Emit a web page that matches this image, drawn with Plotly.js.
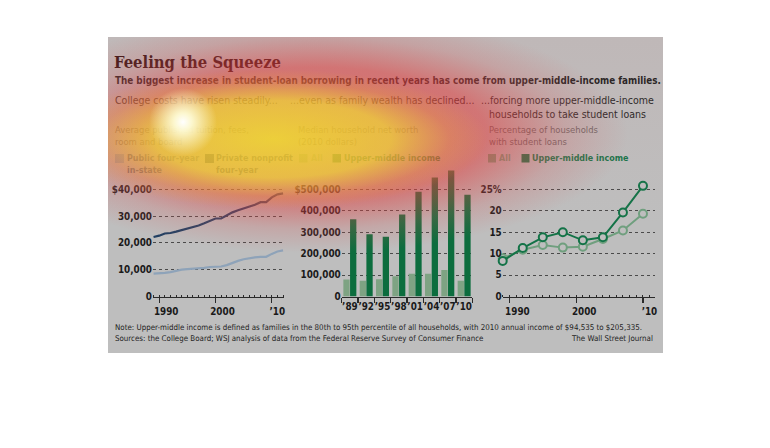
<!DOCTYPE html>
<html><head><meta charset="utf-8">
<script src="https://cdn.plot.ly/plotly-3.0.1.min.js"></script>
<style>
html,body{margin:0;padding:0;background:#fff;}
#wrap{position:relative;width:770px;height:448px;overflow:hidden;}
#chart{width:770px;height:448px;}
#heat{position:absolute;left:108px;top:37px;width:555px;height:316px;pointer-events:none;
background:
 radial-gradient(circle at 75px 85px, rgba(255,255,255,1) 0px, rgba(255,255,225,0.88) 9px, rgba(255,250,150,0) 34px),
 radial-gradient(ellipse 215px 70px at 165px 102px, rgba(245,240,40,0.74) 0%, rgba(245,232,45,0.62) 55%, rgba(240,170,50,0.25) 82%, rgba(240,150,60,0) 100%),
 radial-gradient(ellipse 315px 120px at 205px 96px, rgba(228,55,55,0.6) 0%, rgba(225,60,60,0.55) 55%, rgba(215,85,85,0.22) 80%, rgba(210,110,110,0) 100%),
 linear-gradient(rgba(200,140,140,0.12), rgba(200,140,140,0) 60%);
}
</style></head><body>
<div id="wrap"><div id="chart"></div><div id="heat"></div></div>
<script>
// ---- Data ----
const costYears = [1989,1990,1991,1992,1993,1994,1995,1996,1997,1998,1999,2000,2001,2002,2003,2004,2005,2006,2007,2008,2009,2010,2011,2012];
const privateCost = [22200,22700,23500,23700,24200,24800,25200,25800,26500,27300,28300,29100,29100,30400,31400,32200,32900,33500,34200,35200,35200,37000,38100,38500];
const publicCost  = [8500,8600,8800,9100,9600,10000,10200,10300,10500,10700,11000,11100,11200,11700,12600,13300,13900,14300,14600,14800,14800,15900,16800,17200];
const costTickVals = [0,10000,20000,30000,40000];
const costTickText = ['0','10,000','20,000','30,000','$40,000'];

const worthLabels = ['\u201989','\u201992','\u201995','\u201998','\u201901','\u201904','\u201907','\u201910'];
const worthAll   = [79000,74000,81000,95000,106000,106000,124000,74000];
const worthUpper = [360000,290000,279000,382000,489000,555000,588000,475000];
const worthTickVals = [0,100000,200000,300000,400000,500000];
const worthTickText = ['0','100,000','200,000','300,000','400,000','$500,000'];

const loanYears = [1989,1992,1995,1998,2001,2004,2007,2010];
const loanAll   = [8.9,10.9,12.0,11.4,11.6,13.4,15.4,19.3];
const loanUpper = [8.3,11.3,13.8,15.0,13.1,13.8,19.6,25.8];
const loanTickVals = [0,5,10,15,20,25];
const loanTickText = ['0','5','10','15','20','25%'];

const yearTickVals = [1990,2000,2010];
const yearTickText = ['1990','2000','\u201910\u00a0'];

// ---- Styles ----
const W = 770, H = 448;
const NARROW = "'DejaVu Sans Condensed','Liberation Sans Narrow','Arial Narrow',sans-serif";
const SERIF = "'DejaVu Serif Condensed','DejaVu Serif','Liberation Serif',serif";
const BG = '#bebebe';
const C_PRIV = '#1f3f62', C_PUB = '#8ea3b9';
const C_ALL = '#7ea383', C_UP = '#0c6d3e';
const C_LALL = '#6f9f7e', C_LUP = '#137347';
const px = v => v / W, py = v => 1 - v / H;

const yDom = [py(296.5), py(160)];
const scaleTop = (296.5 - 160) / (296.5 - 189.3);

const yTickFont = {family: NARROW, size: 9.8, color: '#1a1a1a', weight: 'bold'};
const xTickFont = {family: NARROW, size: 9.8, color: '#1a1a1a', weight: 'bold'};

const traces = [
  {x: costYears, y: privateCost, type: 'scatter', mode: 'lines', line: {color: C_PRIV, width: 2.2}, xaxis: 'x', yaxis: 'y', cliponaxis: false},
  {x: costYears, y: publicCost, type: 'scatter', mode: 'lines', line: {color: C_PUB, width: 2.2}, xaxis: 'x', yaxis: 'y', cliponaxis: false},
  {x: worthLabels, y: worthAll, type: 'bar', marker: {color: C_ALL}, xaxis: 'x2', yaxis: 'y2'},
  {x: worthLabels, y: worthUpper, type: 'bar', marker: {color: C_UP}, xaxis: 'x2', yaxis: 'y2'},
  {x: loanYears, y: loanAll, type: 'scatter', mode: 'lines+markers', line: {color: C_LALL, width: 2},
   marker: {symbol: 'circle', size: 8, color: BG, line: {color: C_LALL, width: 2}}, xaxis: 'x3', yaxis: 'y3', cliponaxis: false},
  {x: loanYears, y: loanUpper, type: 'scatter', mode: 'lines+markers', line: {color: C_LUP, width: 2},
   marker: {symbol: 'circle', size: 8, color: BG, line: {color: C_LUP, width: 2}}, xaxis: 'x3', yaxis: 'y3', cliponaxis: false}
];

function yAx(anchor, top, vals, text) {
  return {domain: yDom, anchor: anchor, range: [0, top * scaleTop], tickmode: 'array', tickvals: vals, ticktext: text,
    showgrid: true, gridcolor: '#4a4a4a', griddash: 'dot', gridwidth: 1, zeroline: false, showline: false,
    ticks: '', tickfont: yTickFont, fixedrange: true};
}
function yearAx(dom, range, shift, anchor) {
  return {domain: dom, anchor: anchor, range: range, tickmode: 'array', tickvals: yearTickVals, ticktext: yearTickText,
    showgrid: false, zeroline: false, showline: true, linecolor: '#2a2a2a', linewidth: 1.3, tickangle: 0,
    ticks: 'outside', ticklen: 5, tickwidth: 1.3, tickcolor: '#2a2a2a', tickfont: xTickFont, ticklabelshift: shift,
    minor: {tickmode: 'linear', tick0: 1989, dtick: 1, ticks: 'inside', ticklen: 2, tickwidth: 1, tickcolor: '#2a2a2a', showgrid: false}};
}

function ann(text, x, y, size, color, weight, family, anchor) {
  return {text: text, x: px(x), y: py(y), xref: 'paper', yref: 'paper', xanchor: anchor || 'left', yanchor: 'middle',
    showarrow: false, borderpad: 0, font: {family: family || NARROW, size: size, color: color, weight: weight || 'normal'}};
}
const SUB = '#666666';
const HS = 10.5, SS = 9.4, LS = 8.9, FS = 7.9;
const annotations = [
  ann('Feeling the Squeeze', 113, 62, 16.5, '#240808', 'bold', SERIF),
  ann('The biggest increase in student-loan borrowing in recent years has come from upper-middle-income families.', 114, 81, 9.8, '#1a1a1a', 'bold'),
  ann('College costs have risen steadily...', 114, 99.5, HS, '#222'),
  ann('...even as family wealth has declined...', 289, 99.5, HS, '#222'),
  ann('...forcing more upper-middle-income', 480, 99.5, HS, '#222'),
  ann('households to take student loans', 487.5, 113.5, HS, '#222'),
  ann('Average published tuition, fees,', 114, 129, SS, SUB),
  ann('room and board', 114, 141.5, SS, SUB),
  ann('Median household net worth', 297, 129, SS, SUB),
  ann('(2010 dollars)', 297, 141.5, SS, SUB),
  ann('Percentage of households', 488, 129, SS, SUB),
  ann('with student loans', 488, 141.5, SS, SUB),
  ann('Public four-year', 126, 158, LS, '#4f6680', 'bold'),
  ann('in-state', 126, 169.5, LS, '#4f6680', 'bold'),
  ann('Private nonprofit', 215, 158, LS, C_PRIV, 'bold'),
  ann('four-year', 215, 169.5, LS, C_PRIV, 'bold'),
  ann('All', 310, 158, LS, C_ALL, 'bold'),
  ann('Upper-middle income', 343, 158, LS, C_UP, 'bold'),
  ann('All', 498, 158, LS, C_LALL, 'bold'),
  ann('Upper-middle income', 531, 158, LS, C_LUP, 'bold'),
  ann('Note: Upper-middle income is defined as families in the 80th to 95th percentile of all households, with 2010 annual income of $94,535 to $205,335.', 114, 327.5, FS, '#1e1e1e'),
  ann('Sources: the College Board; WSJ analysis of data from the Federal Reserve Survey of Consumer Finance', 114, 338, FS, '#1e1e1e'),
  ann('The Wall Street Journal', 654, 338, FS, '#1e1e1e', 'normal', NARROW, 'right')
];

function sq(x0, y0, x1, y1, c) {
  return {type: 'rect', xref: 'paper', yref: 'paper', x0: px(x0), x1: px(x1), y0: py(y1), y1: py(y0), fillcolor: c, line: {width: 0}, layer: 'above'};
}
const shapes = [
  {type: 'rect', xref: 'paper', yref: 'paper', x0: px(108), x1: px(663), y0: py(353), y1: py(37), fillcolor: BG, line: {width: 0}, layer: 'below'},
  sq(115, 154, 124, 163, C_PUB),
  sq(205, 154, 214, 163, C_PRIV),
  sq(299, 154, 307.5, 162.5, C_ALL),
  sq(332.5, 154, 341, 162.5, C_UP),
  sq(488, 154, 496, 162.5, C_LALL),
  sq(521.5, 154, 529.5, 162.5, C_LUP)
];

const layout = {
  width: W, height: H, margin: {l: 0, r: 0, t: 0, b: 0},
  paper_bgcolor: '#ffffff', plot_bgcolor: 'rgba(0,0,0,0)',
  showlegend: false, barmode: 'group', bargap: 0.18, bargroupgap: 0.06,
  xaxis: yearAx([px(153), px(284.2)], [1988.9, 2012.2], 7, 'y'),
  yaxis: yAx('x', 40000, costTickVals, costTickText),
  xaxis2: {domain: [px(341.7), px(472.3)], anchor: 'y2', type: 'category', range: [-0.5, 7.5], tickson: 'boundaries', tickangle: 0,
    showgrid: false, zeroline: false, showline: true, linecolor: '#2a2a2a', linewidth: 1.3,
    ticks: 'outside', ticklen: 5, tickwidth: 1.3, tickcolor: '#2a2a2a', tickfont: xTickFont},
  yaxis2: yAx('x2', 500000, worthTickVals, worthTickText),
  xaxis3: yearAx([px(502.7), px(655)], [1989, 2011.8], 8, 'y3'),
  yaxis3: yAx('x3', 25, loanTickVals, loanTickText),
  annotations: annotations,
  shapes: shapes
};

Plotly.newPlot('chart', traces, layout, {displayModeBar: false, staticPlot: true});
</script>
</body></html>
